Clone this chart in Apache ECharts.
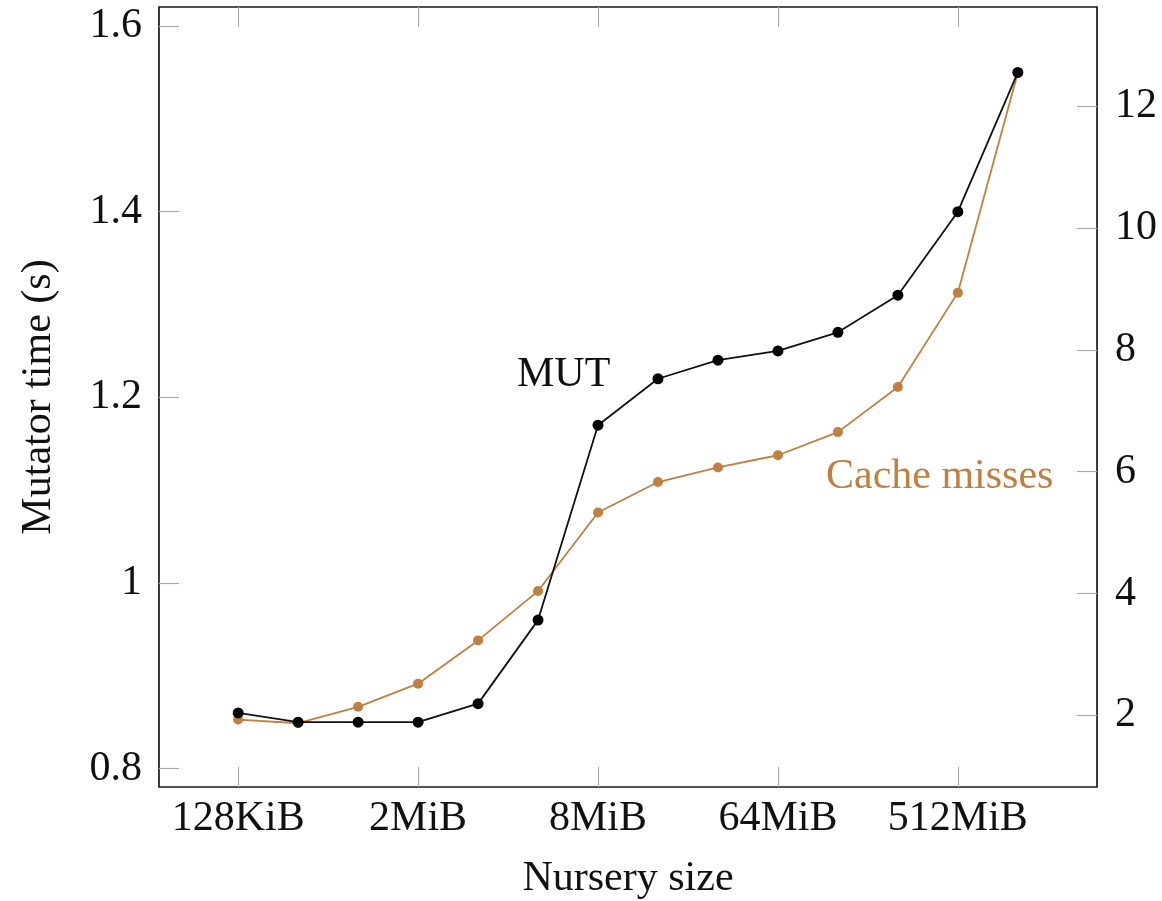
<!DOCTYPE html>
<html>
<head>
<meta charset="utf-8">
<script src="https://cdn.jsdelivr.net/npm/echarts@6/dist/echarts.min.js"></script>
<style>
html,body{margin:0;padding:0;background:#fff;}
#chart{width:1162px;height:901px;}
</style>
</head>
<body>
<div id="chart"></div>
<script>
// Data
const categories = ['128KiB','256KiB','512KiB','2MiB','3MiB','4MiB','8MiB','16MiB','32MiB','64MiB','128MiB','256MiB','512MiB','1GiB'];
const xTickIndices = [0, 3, 6, 9, 12];
const xTickLabels = ['128KiB', '2MiB', '8MiB', '64MiB', '512MiB'];
const mutValues = [0.86, 0.85, 0.85, 0.85, 0.87, 0.96, 1.17, 1.22, 1.24, 1.25, 1.27, 1.31, 1.40, 1.55];
const cacheMissValues = [1.93, 1.87, 2.14, 2.52, 3.23, 4.04, 5.33, 5.83, 6.07, 6.27, 6.65, 7.39, 8.94, 12.55];
const leftTicks = [0.8, 1.0, 1.2, 1.4, 1.6];
const leftTickLabels = ['0.8', '1', '1.2', '1.4', '1.6'];
const rightTicks = [2, 4, 6, 8, 10, 12];

const FONT = 'Liberation Serif';
const FS = 42;
const TICK_COLOR = '#aaaaaa';
const ORANGE = '#bf8040';

const chart = echarts.init(document.getElementById('chart'));
const labelMap = {};
xTickIndices.forEach((v, i) => { labelMap[v] = xTickLabels[i]; });
const leftMap = {};
leftTicks.forEach((v, i) => { leftMap[v.toFixed(1)] = leftTickLabels[i]; });

chart.setOption({
  animation: false,
  backgroundColor: '#fff',
  grid: {
    left: 159, top: 7, right: 65, bottom: 114,
    outerBoundsMode: 'none', containLabel: false,
    show: true, borderColor: '#1a1a1a', borderWidth: 1.7, backgroundColor: 'transparent'
  },
  xAxis: [{
    type: 'value', min: -1.32, max: 14.32,
    position: 'bottom',
    name: 'Nursery size', nameLocation: 'middle', nameGap: 71,
    nameTextStyle: { fontFamily: FONT, fontSize: FS, color: '#111' },
    axisLine: { show: false, onZero: false },
    axisTick: { show: true, inside: true, length: 20, customValues: xTickIndices, lineStyle: { color: TICK_COLOR, width: 1.2 } },
    axisLabel: { customValues: xTickIndices, formatter: v => labelMap[Math.round(v)] || '', fontFamily: FONT, fontSize: FS, color: '#111', margin: 11 },
    splitLine: { show: false }
  }, {
    type: 'value', min: -1.32, max: 14.32,
    position: 'top',
    axisLine: { show: false, onZero: false },
    axisTick: { show: true, inside: true, length: 20, customValues: xTickIndices, lineStyle: { color: TICK_COLOR, width: 1.2 } },
    axisLabel: { show: false },
    splitLine: { show: false }
  }],
  yAxis: [{
    type: 'value', min: 0.7802, max: 1.6205, position: 'left',
    name: 'Mutator time (s)', nameLocation: 'middle', nameGap: 99, nameRotate: 90,
    nameTextStyle: { fontFamily: FONT, fontSize: FS, color: '#111' },
    axisLine: { show: false, onZero: false },
    axisTick: { show: true, inside: true, length: 20, customValues: leftTicks, lineStyle: { color: TICK_COLOR, width: 1.2 } },
    axisLabel: { customValues: leftTicks, formatter: v => leftMap[v.toFixed(1)] || '', fontFamily: FONT, fontSize: FS, color: '#111', margin: 17 },
    splitLine: { show: false }
  }, {
    type: 'value', min: 0.823, max: 13.63, position: 'right',
    axisLine: { show: false, onZero: false },
    axisTick: { show: true, inside: true, length: 20, customValues: rightTicks, lineStyle: { color: TICK_COLOR, width: 1.2 } },
    axisLabel: { customValues: rightTicks, fontFamily: FONT, fontSize: FS, color: '#111', margin: 18 },
    splitLine: { show: false }
  }],
  series: [{
    name: 'Cache misses', type: 'line', xAxisIndex: 0, yAxisIndex: 1,
    data: cacheMissValues.map((v, i) => [i, v]),
    symbol: 'circle', symbolSize: 10,
    lineStyle: { color: ORANGE, width: 1.8 },
    itemStyle: { color: ORANGE },
    z: 2
  }, {
    name: 'MUT', type: 'line', xAxisIndex: 0, yAxisIndex: 0,
    data: mutValues.map((v, i) => [i, v]),
    symbol: 'circle', symbolSize: 11,
    lineStyle: { color: '#111', width: 1.8 },
    itemStyle: { color: '#000' },
    z: 3
  }],
  graphic: [{
    type: 'text', left: 517, top: 354,
    style: { text: 'MUT', fontFamily: FONT, fontSize: FS, fill: '#111' }
  }, {
    type: 'text', left: 826, top: 456,
    style: { text: 'Cache misses', fontFamily: FONT, fontSize: FS, fill: ORANGE }
  }]
});
</script>
</body>
</html>
